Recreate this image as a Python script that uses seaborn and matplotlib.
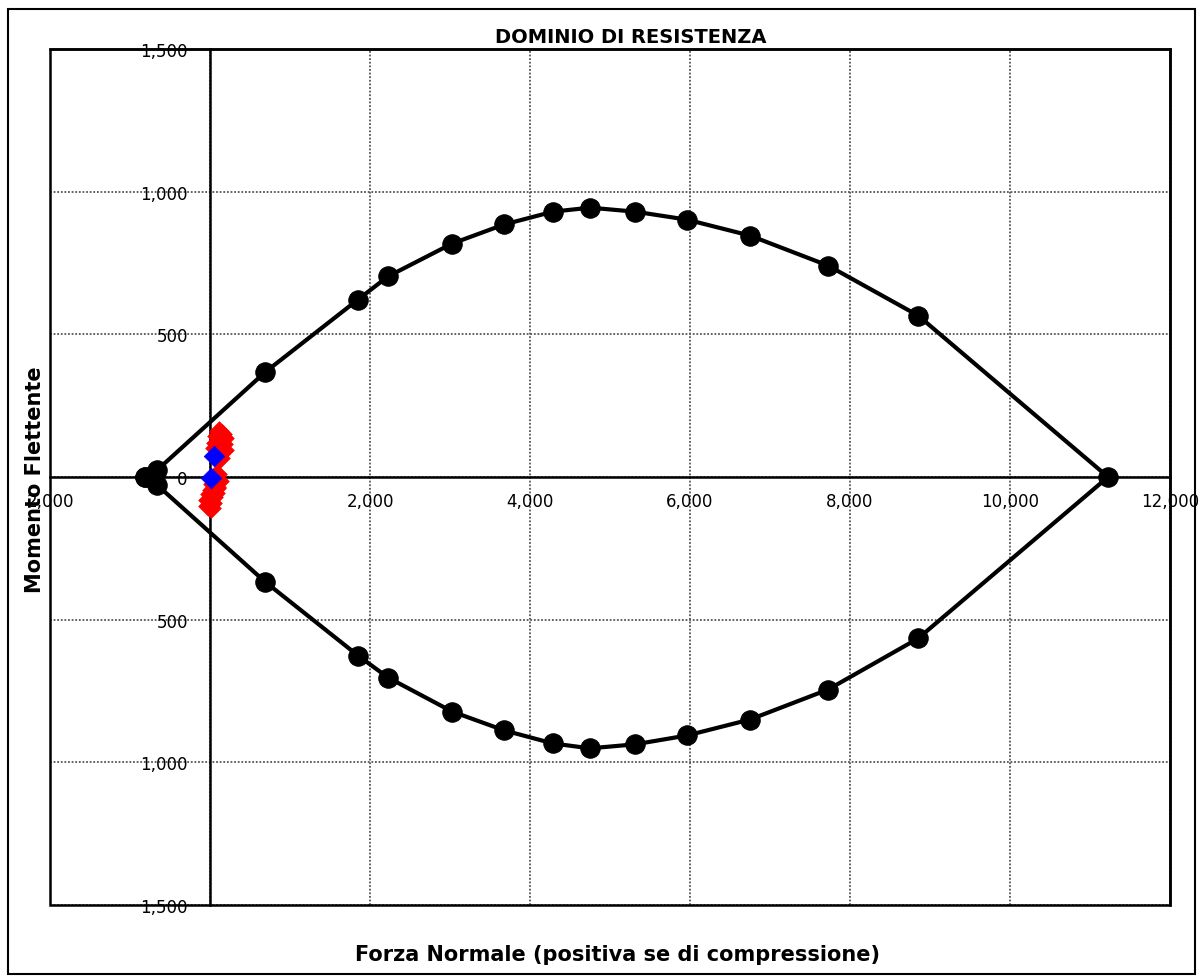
"""
Recreates the 'Dominio di resistenza' interaction chart (N-M domain).
"""

import matplotlib.pyplot as plt
import matplotlib.patches as patches
from matplotlib.ticker import FuncFormatter
import pandas as pd
import seaborn as sns

# domain boundary, closed polyline (N in kN, M in kNm)
domain_n = [-812, -662, 687, 1850, 2225, 3025, 3675, 4287, 4750, 5312, 5962,
            6750, 7725, 8850, 11225, 8850, 7725, 6750, 5962, 5312, 4750, 4287,
            3675, 3025, 2225, 1850, 687, -662, -812]
domain_m = [0, 24, 367, 622, 703, 818, 885, 930, 944, 930, 902,
            846, 741, 566, 0, -566, -745, -850, -906, -937, -951, -934,
            -888, -822, -703, -626, -367, -28, 0]

# load combinations (red) and characteristic points (blue)
loads_n = [110, 150, 90, 170, 130, 80, 160, 120, 60, 140, 100, 175, 70, 130,
           90, 60, 110, 40, 80, 20, 60, 0, 40, -20, 20, -30, 70, 10]
loads_m = [160, 150, 145, 135, 130, 120, 115, 105, 100, 90, 80, 95, 70, 68,
           10, -5, -15, -25, -35, -45, -55, -60, -70, -80, -90, -100, -40, -110]
check_n = [55, 10]
check_m = [75, -5]

x_ticks = [-2000, 0, 2000, 4000, 6000, 8000, 10000, 12000]
y_ticks = [-1500, -1000, -500, 0, 500, 1000, 1500]


def main():
    sns.set_style("white")
    plt.rcParams["font.family"] = ["DejaVu Sans"]
    plt.rcParams["text.color"] = "black"

    fig = plt.figure(figsize=(12.03, 9.79), dpi=100)
    ax = fig.add_axes([0.0416, 0.0746, 0.931, 0.8743])

    df_domain = pd.DataFrame({"N": domain_n, "M": domain_m})
    sns.lineplot(data=df_domain, x="N", y="M", sort=False, estimator=None,
                 color="black", linewidth=3, marker="o", markersize=14,
                 markeredgecolor="black", ax=ax, zorder=4)

    df_loads = pd.DataFrame({"N": loads_n, "M": loads_m})
    sns.scatterplot(data=df_loads, x="N", y="M", marker="D", s=100,
                    color="red", edgecolor="red", linewidth=0.5, ax=ax, zorder=5)
    df_check = pd.DataFrame({"N": check_n, "M": check_m})
    sns.scatterplot(data=df_check, x="N", y="M", marker="D", s=110,
                    color="blue", edgecolor="blue", linewidth=0.5, ax=ax, zorder=6)

    ax.set_xlim(x_ticks[0], x_ticks[-1])
    ax.set_ylim(y_ticks[0], y_ticks[-1])
    ax.set_xticks(x_ticks)
    ax.set_yticks(y_ticks)
    fmt = FuncFormatter(lambda v, p: f"{abs(v):,.0f}")
    ax.xaxis.set_major_formatter(fmt)
    ax.yaxis.set_major_formatter(fmt)

    ax.grid(True, color="#555555", linestyle=(0, (1, 1)), linewidth=1.3, zorder=1)
    ax.set_axisbelow(True)

    # axes through the origin carry the tick labels
    ax.spines["left"].set_position(("data", 0))
    ax.spines["bottom"].set_position(("data", 0))
    for side in ["left", "bottom", "top", "right"]:
        ax.spines[side].set_linewidth(1.8)
        ax.spines[side].set_color("black")
    ax.add_patch(patches.Rectangle((0, 0), 1, 1, transform=ax.transAxes,
                                   fill=False, linewidth=1.8, edgecolor="black",
                                   clip_on=False, zorder=3))
    ax.tick_params(axis="both", direction="out", length=4, width=1.2,
                   labelsize=12, colors="black", labelcolor="black")
    ax.tick_params(axis="x", pad=7)
    ax.tick_params(axis="y", pad=12)

    ax.set_xlabel("")
    ax.set_ylabel("")
    fig.text(0.513, 0.0245, "Forza Normale (positiva se di compressione)",
             ha="center", va="center", fontsize=15, fontweight="bold",
             color="black")
    fig.text(0.029, 0.51, "Momento Flettente", ha="center", va="center",
             rotation=90, fontsize=15, fontweight="bold", color="black")
    fig.text(0.524, 0.962, "DOMINIO DI RESISTENZA", ha="center", va="center",
             fontsize=14, fontweight="bold", color="black")

    fig.patches.append(patches.Rectangle((0.0066, 0.004), 0.9867, 0.9858,
                                         transform=fig.transFigure, fill=False,
                                         linewidth=1.5, edgecolor="black"))

    fig.savefig("out.png", dpi=100)


if __name__ == "__main__":
    main()
